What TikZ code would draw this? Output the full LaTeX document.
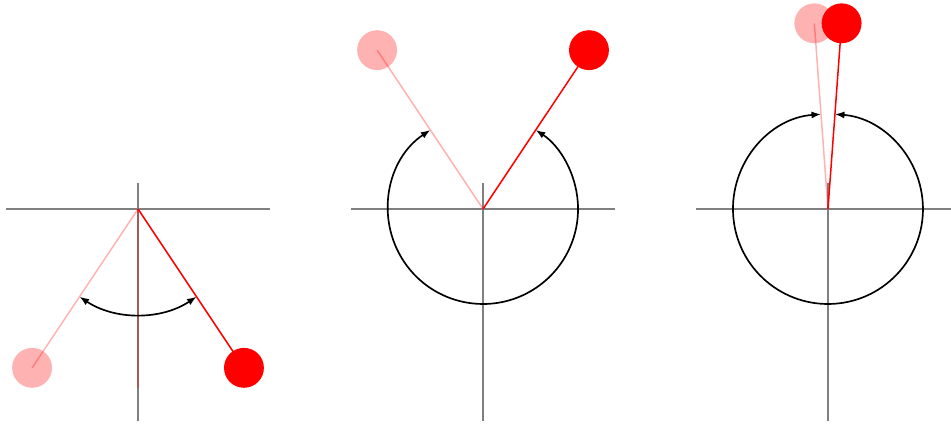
\documentclass[tikz,border=0pt]{standalone}
\usepackage{tikz}
\usetikzlibrary{arrows.meta}

\begin{document}
\begin{tikzpicture}[
    axis/.style={draw=gray, line width=0.35pt},
    rod/.style={draw=red, line width=0.45pt},
    ghostrod/.style={rod, draw opacity=0.3},
    bob/.style={circle, fill=red, minimum size=0.42cm, inner sep=0pt},
    ghostbob/.style={bob, fill opacity=0.3},
    swing/.style={draw=black, line width=0.5pt, {Latex[length=1mm,width=0.75mm]}-{Latex[length=1mm,width=0.75mm]}}
]
    \useasboundingbox (-1.453,-2.253) rectangle (8.558,2.2);

    % pivots
    \coordinate (p1) at (0,0);
    \coordinate (p2) at (3.632,0);
    \coordinate (p3) at (7.263,0);

    % small swing
    \draw[axis] (-1.39,0) -- (1.39,0);
    \draw[axis] (0,0.274) -- (0,-2.232);
    \coordinate (rest) at (0,-1.884);
    \draw[ghostrod] (p1) -- (rest);
    \draw[swing] (p1) ++(-123.7:1.11) arc[start angle=-123.7, end angle=-56.3, radius=1.11];
    \path (p1) ++(-123.7:2.01) node[ghostbob] (l1) {};
    \path (p1) ++(-56.3:2.01) node[bob] (r1) {};
    \draw[ghostrod] (p1) -- (l1.center);
    \draw[rod] (p1) -- (r1.center);

    % large swing
    \draw[axis] (2.242,0) -- (5.022,0);
    \draw[axis] (3.632,0.274) -- (3.632,-2.232);
    \draw[swing] (p2) ++(123.7:1) arc[start angle=123.7, end angle=416.3, radius=1];
    \path (p2) ++(123.7:2.01) node[ghostbob] (l2) {};
    \path (p2) ++(56.3:2.01) node[bob] (r2) {};
    \draw[ghostrod] (p2) -- (l2.center);
    \draw[rod] (p2) -- (r2.center);

    % almost full turn
    \draw[axis] (5.873,0) -- (8.558,0);
    \draw[axis] (7.263,0.274) -- (7.263,-2.232);
    \draw[swing] (p3) ++(94.2:1) arc[start angle=94.2, end angle=445.8, radius=1];
    \path (p3) ++(94.2:1.96) node[ghostbob] (l3) {};
    \path (p3) ++(85.8:1.96) node[bob] (r3) {};
    \draw[ghostrod] (p3) -- (l3.center);
    \draw[rod] (p3) -- (r3.center);
\end{tikzpicture}
\end{document}
